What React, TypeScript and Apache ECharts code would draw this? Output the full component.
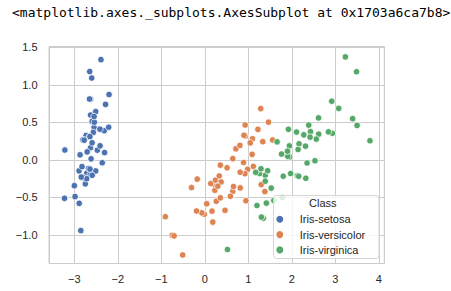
import React, { useEffect, useRef } from "react";
import * as echarts from "echarts";

const classes = ["Iris-setosa", "Iris-versicolor", "Iris-virginica"];
const colors = ["#4c72b0", "#dd8452", "#55a868"];

const setosaX = [-2.684, -2.714, -2.889, -2.745, -2.729, -2.281, -2.821, -2.626, -2.886, -2.673, -2.507, -2.613, -2.786, -3.224, -2.645, -2.386, -2.624, -2.648, -2.2, -2.588, -2.31, -2.544, -3.216, -2.303, -2.356, -2.507, -2.469, -2.562, -2.64, -2.632, -2.587, -2.41, -2.649, -2.599, -2.637, -2.866, -2.625, -2.801, -2.981, -2.59, -2.77, -2.849, -2.997, -2.406, -2.209, -2.714, -2.538, -2.839, -2.543, -2.703];
const setosaY = [0.319, -0.177, -0.145, -0.318, 0.327, 0.741, -0.089, 0.163, -0.578, -0.114, 0.645, 0.015, -0.235, -0.511, 1.179, 1.338, 0.811, 0.312, 0.873, 0.514, 0.391, 0.433, 0.133, 0.099, -0.037, -0.146, 0.131, 0.368, 0.312, -0.197, -0.204, 0.411, 0.813, 1.093, -0.121, 0.069, 0.599, 0.269, -0.488, 0.229, 0.264, -0.941, -0.342, 0.189, 0.437, -0.25, 0.504, -0.228, 0.579, 0.108];

const versicolorX = [1.285, 0.932, 1.464, 0.183, 1.088, 0.642, 1.095, -0.749, 1.044, -0.009, -0.508, 0.512, 0.265, 0.985, -0.174, 0.928, 0.66, 0.236, 0.945, 0.045, 1.116, 0.358, 1.298, 0.922, 0.715, 0.9, 1.332, 1.558, 0.813, -0.306, -0.068, -0.19, 0.136, 1.38, 0.588, 0.807, 1.221, 0.815, 0.246, 0.166, 0.465, 0.891, 0.231, -0.705, 0.357, 0.332, 0.376, 0.643, -0.906, 0.299];
const versicolorY = [0.685, 0.318, 0.504, -0.828, 0.075, -0.418, 0.283, -1.005, 0.228, -0.723, -1.266, -0.104, -0.55, -0.125, -0.255, 0.467, -0.353, -0.334, -0.543, -0.584, -0.085, -0.069, -0.328, -0.183, 0.149, 0.329, 0.244, 0.267, -0.163, -0.368, -0.705, -0.68, -0.314, -0.421, -0.484, 0.194, 0.408, -0.372, -0.269, -0.682, -0.671, -0.034, -0.404, -1.012, -0.505, -0.213, -0.293, 0.018, -0.756, -0.349];

const virginicaX = [2.531, 1.415, 2.617, 1.972, 2.35, 3.397, 0.521, 2.933, 2.321, 2.917, 1.662, 1.803, 2.166, 1.346, 1.586, 1.904, 1.95, 3.487, 3.796, 1.301, 2.428, 1.199, 3.5, 1.389, 2.275, 2.614, 1.259, 1.291, 2.124, 2.388, 2.842, 3.231, 2.159, 1.444, 1.781, 3.076, 2.144, 1.905, 1.169, 2.108, 2.314, 1.922, 1.415, 2.563, 2.419, 1.944, 1.527, 1.764, 1.901, 1.39];
const virginicaY = [-0.01, -0.575, 0.344, -0.18, -0.04, 0.551, -1.193, 0.356, -0.244, 0.783, 0.242, -0.216, 0.216, -0.777, -0.54, 0.119, 0.042, 1.176, 0.257, -0.761, 0.378, -0.606, 0.461, -0.204, 0.335, 0.561, -0.18, -0.117, -0.21, 0.465, 0.375, 1.374, -0.217, -0.143, -0.5, 0.688, 0.14, 0.049, -0.165, 0.372, 0.184, 0.409, -0.575, 0.278, 0.305, 0.188, -0.375, 0.079, 0.117, -0.283];

const xTicks = [-3, -2, -1, 0, 1, 2, 3, 4];
const yTicks = [-1.0, -0.5, 0.0, 0.5, 1.0, 1.5];

const titleText = "<matplotlib.axes._subplots.AxesSubplot at 0x1703a6ca7b8>";

const FONT = '"Liberation Sans", Arial, sans-serif';

function zip(xs: number[], ys: number[]) {
  return xs.map((x, i) => [x, ys[i]]);
}

export default function App() {
  const ref = useRef<HTMLDivElement>(null);
  useEffect(() => {
    if (!ref.current) return;
    const chart = echarts.init(ref.current, undefined, { renderer: "svg" });
    const seriesData = [zip(setosaX, setosaY), zip(versicolorX, versicolorY), zip(virginicaX, virginicaY)];
    const fmt = (ticks: number[], dec: number) => (v: number) => {
      const t = ticks.find((k) => Math.abs(k - v) < 1e-6);
      if (t === undefined) return "";
      return t.toFixed(dec).replace("-", "\u2212");
    };
    chart.setOption({
      animation: false,
      backgroundColor: "#ffffff",
      grid: {
        left: 49,
        top: 46.5,
        width: 335.3,
        height: 217,
        show: true,
        borderColor: "#cccccc",
        borderWidth: 1,
        containLabel: false,
      },
      xAxis: {
        type: "value",
        min: -3.58,
        max: 4.125,
        splitNumber: 8,
        minInterval: 1,
        maxInterval: 1,
        axisLine: { show: false },
        axisTick: { show: false },
        splitLine: { show: true, lineStyle: { color: "#cccccc", width: 1 } },
        axisLabel: {
          formatter: fmt(xTicks, 0),
          color: "#262626",
          fontSize: 11,
          fontFamily: FONT,
          margin: 10,
        },
      },
      yAxis: {
        type: "value",
        min: -1.38,
        max: 1.513,
        splitNumber: 6,
        minInterval: 0.5,
        maxInterval: 0.5,
        axisLine: { show: false },
        axisTick: { show: false },
        splitLine: { show: true, lineStyle: { color: "#cccccc", width: 1 } },
        axisLabel: {
          formatter: fmt(yTicks, 1),
          color: "#262626",
          fontSize: 11,
          fontFamily: FONT,
          margin: 11.5,
        },
      },
      legend: {
        orient: "vertical",
        left: 274.3,
        top: 211.65,
        padding: 0,
        itemGap: 0,
        itemWidth: 30,
        itemHeight: 9,
        icon: "circle",
        z: 6,
        data: classes,
        textStyle: { fontSize: 11, lineHeight: 15.3, color: "#262626", fontFamily: FONT },
      },
      graphic: [
        {
          type: "text",
          left: 12,
          top: 6,
          style: { text: titleText, font: '13px "DejaVu Sans Mono", monospace', fill: "#000000" },
        },
        {
          type: "rect",
          z: 4,
          shape: { x: 273.5, y: 195.5, width: 105.5, height: 63, r: 3 },
          style: { fill: "rgba(255,255,255,0.8)", stroke: "#d6d6d6", lineWidth: 1 },
        },
        {
          type: "text",
          z: 6,
          x: 309,
          y: 203,
          style: {
            text: "Class",
            font: '11px "Liberation Sans", Arial, sans-serif',
            fill: "#262626",
            verticalAlign: "middle",
            align: "left",
          },
        },
      ],
      series: classes.map((name, i) => ({
        name,
        type: "scatter",
        data: seriesData[i],
        symbol: "circle",
        symbolSize: 6.5,
        z: 2,
        itemStyle: { color: colors[i], borderColor: "#ffffff", borderWidth: 0.75, opacity: 1 },
      })),
    });
    return () => chart.dispose();
  }, []);
  return <div ref={ref} style={{ position: "absolute", left: 0, top: 0, width: 451, height: 291 }} />;
}
